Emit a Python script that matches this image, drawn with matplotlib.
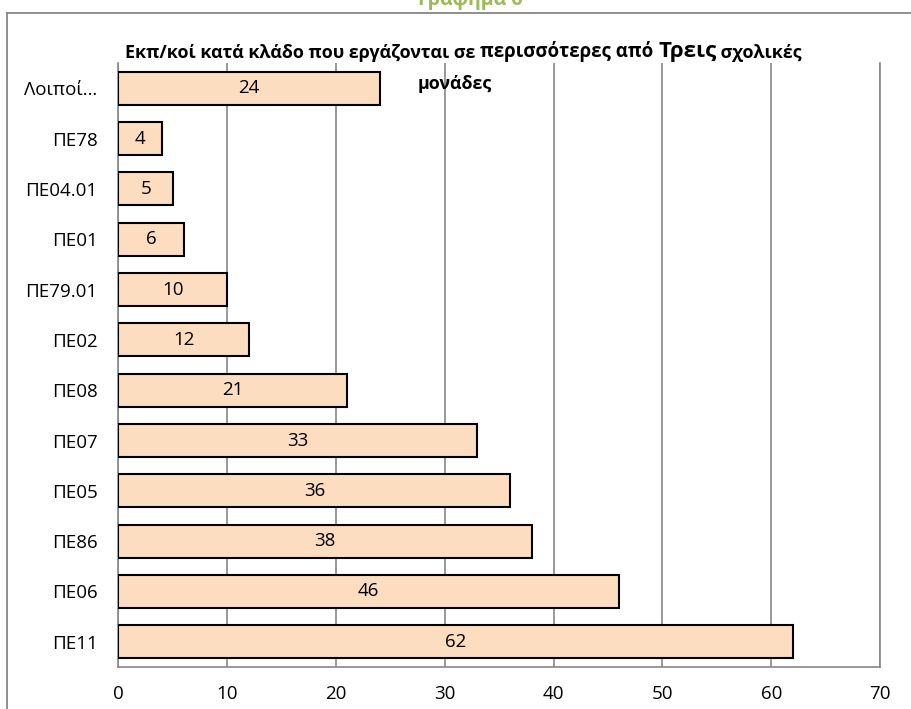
import matplotlib.pyplot as plt
from matplotlib.lines import Line2D

# categories top -> bottom as shown in the chart
categories = ["Λοιποί…", "ΠΕ78", "ΠΕ04.01", "ΠΕ01", "ΠΕ79.01", "ΠΕ02",
              "ΠΕ08", "ΠΕ07", "ΠΕ05", "ΠΕ86", "ΠΕ06", "ΠΕ11"]
counts = [24, 4, 5, 6, 10, 12, 21, 33, 36, 38, 46, 62]
x_ticks = [0, 10, 20, 30, 40, 50, 60, 70]

title_parts = [
    ("Εκπ/κοί κατά κλάδο που εργάζονται σε ", 12.9),
    ("περισσότερες από ", 13.4),
    ("Τρεις", 16),
    (" σχολικές", 12.9),
]
title_line2 = "μονάδες"
header = "Γράφημα 6"

plt.rcParams["font.family"] = ["Open Sans", "DejaVu Sans"]

W, H = 912, 709
fig = plt.figure(figsize=(W / 100, H / 100), dpi=100)
ax = fig.add_axes([118.5 / W, 1 - 667 / H, (880 - 118.5) / W, (667 - 63) / H])

grid_col = "#878787"
ypos = list(range(len(categories)))
ax.barh(ypos, counts, height=0.66, color="#FDDDC0", edgecolor="black",
        linewidth=1.5, zorder=3)

for y, v in zip(ypos, counts):
    ax.text(v / 2, y, str(v), ha="center", va="center", fontsize=13.5, zorder=4)

ax.set_xlim(0, 70)
ax.set_ylim(len(categories) - 0.5, -0.5)
ax.set_xticks(x_ticks)
ax.set_yticks(ypos)
ax.set_yticklabels(categories)
ax.tick_params(axis="both", length=0, labelsize=13.5)
ax.tick_params(axis="x", pad=13)
ax.tick_params(axis="y", pad=15)
ax.grid(axis="x", color=grid_col, linewidth=1.2, zorder=0)
for side in ["left", "bottom", "right"]:
    ax.spines[side].set_color(grid_col)
    ax.spines[side].set_linewidth(1.2)
ax.spines["top"].set_visible(False)

# outer chart frame (right and bottom edges fall outside the image)
fig.add_artist(Line2D([7 / W, 7 / W], [0, 1 - 13 / H], color="#868686", linewidth=1.3))
fig.add_artist(Line2D([7 / W, 1], [1 - 13 / H, 1 - 13 / H], color="#868686", linewidth=1.3))

# header mostly cut off at the top, as in the original
fig.text(470 / W, 1 - 5 / H, header, ha="center", va="baseline", fontsize=14,
         fontweight="bold", color="#9BBB59")

# title with mixed font sizes
prev = fig.text(125 / W, 1 - 58 / H, title_parts[0][0], ha="left", va="baseline",
                fontsize=title_parts[0][1], fontweight="bold")
for txt, size in title_parts[1:]:
    prev = ax.annotate(txt, xy=(1, 0), xycoords=prev, ha="left", va="bottom",
                       fontsize=size, fontweight="bold")
fig.text(455 / W, 1 - 89 / H, title_line2, ha="center", va="baseline",
         fontsize=12.9, fontweight="bold")

fig.savefig("out.png", dpi=100)
